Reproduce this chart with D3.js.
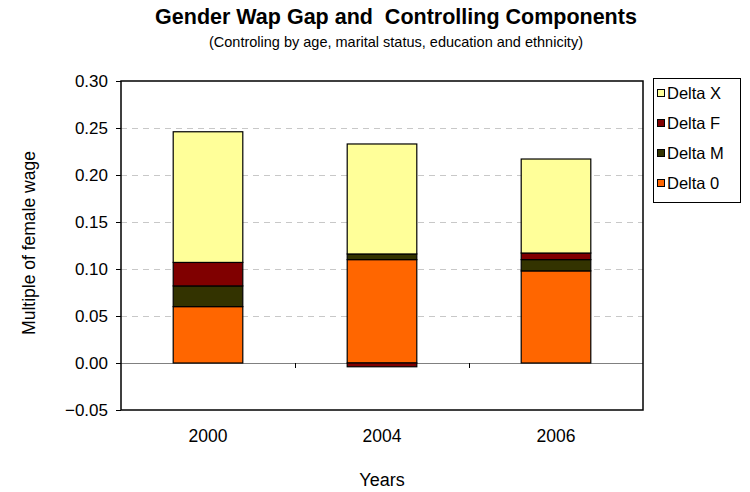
<!DOCTYPE html>
<html>
<head>
<meta charset="utf-8">
<script src="https://cdn.jsdelivr.net/npm/d3@7"></script>
<style>
  body { margin: 0; background: #fff; }
  text { font-family: "Liberation Sans", Arial, sans-serif; }
</style>
</head>
<body>
<div id="chart"></div>
<script>
'use strict'

const years = ['2000', '2004', '2006']
const delta0 = [0.060, 0.110, 0.098]
const deltaM = [0.022, 0.006, 0.012]
const deltaF = [0.025, -0.004, 0.007]
const deltaX = [0.139, 0.117, 0.100]
const yTicks = [-0.05, 0, 0.05, 0.10, 0.15, 0.20, 0.25, 0.30]

const series = [
  { key: 'Delta 0', values: delta0, color: '#ff6600' },
  { key: 'Delta M', values: deltaM, color: '#333300' },
  { key: 'Delta F', values: deltaF, color: '#800000' },
  { key: 'Delta X', values: deltaX, color: '#ffff99' }
]

const rows = years.map((y, i) => {
  const r = { year: y }
  series.forEach(s => { r[s.key] = s.values[i] })
  return r
})

const width = 750
const height = 492
const plot = { left: 121, right: 643, top: 81, bottom: 410 }

const svg = d3.select('#chart')
  .append('svg')
  .attr('width', width)
  .attr('height', height)

const xScale = d3.scaleBand()
  .domain(years)
  .range([plot.left, plot.right])
  .padding(0)

const yScale = d3.scaleLinear()
  .domain([-0.05, 0.30])
  .range([plot.bottom, plot.top])

// grid lines
svg.selectAll('.grid')
  .data(yTicks.filter(t => t > 0 && t < 0.30))
  .enter()
  .append('line')
  .attr('x1', plot.left)
  .attr('x2', plot.right)
  .attr('y1', d => Math.round(yScale(d)) + 0.5)
  .attr('y2', d => Math.round(yScale(d)) + 0.5)
  .attr('stroke', '#c8c8c8')
  .attr('stroke-dasharray', '6,5')

// zero line
svg.append('line')
  .attr('x1', plot.left)
  .attr('x2', plot.right)
  .attr('y1', Math.round(yScale(0)) + 0.5)
  .attr('y2', Math.round(yScale(0)) + 0.5)
  .attr('stroke', '#808080')

// category ticks on zero line
svg.selectAll('.cat-tick')
  .data(years.slice(1))
  .enter()
  .append('line')
  .attr('x1', d => Math.round(xScale(d)) + 0.5)
  .attr('x2', d => Math.round(xScale(d)) + 0.5)
  .attr('y1', Math.round(yScale(0)))
  .attr('y2', Math.round(yScale(0)) + 5)
  .attr('stroke', '#000')

const stack = d3.stack()
  .keys(series.map(s => s.key))
  .offset(d3.stackOffsetDiverging)
const stacked = stack(rows)

const barW = xScale.bandwidth() * 0.4
const colorOf = Object.fromEntries(series.map(s => [s.key, s.color]))

svg.selectAll('.layer')
  .data(stacked)
  .enter()
  .append('g')
  .attr('fill', d => colorOf[d.key])
  .selectAll('rect')
  .data(d => d)
  .enter()
  .append('rect')
  .attr('x', d => xScale(d.data.year) + (xScale.bandwidth() - barW) / 2)
  .attr('width', barW)
  .attr('y', d => yScale(Math.max(d[0], d[1])))
  .attr('height', d => Math.abs(yScale(d[0]) - yScale(d[1])))
  .attr('stroke', '#000')
  .attr('stroke-width', 1.2)

// plot border
svg.append('rect')
  .attr('x', plot.left)
  .attr('y', plot.top)
  .attr('width', plot.right - plot.left)
  .attr('height', plot.bottom - plot.top)
  .attr('fill', 'none')
  .attr('stroke', '#000')
  .attr('stroke-width', 1.5)

// y axis
svg.append('g')
  .attr('transform', `translate(${plot.left}, 0)`)
  .call(d3.axisLeft(yScale).tickValues(yTicks).tickFormat(d3.format('.2f')).tickSize(5))
  .call(g => g.select('.domain').remove())
  .call(g => g.selectAll('line').attr('stroke', '#000'))
  .call(g => g.selectAll('text')
    .attr('font-size', 17)
    .attr('fill', '#000')
    .attr('x', -13)
    .style('font-family', '"Liberation Sans", Arial, sans-serif'))

// x labels
svg.selectAll('.xlab')
  .data(years)
  .enter()
  .append('text')
  .attr('x', d => xScale(d) + xScale.bandwidth() / 2)
  .attr('y', 442)
  .attr('text-anchor', 'middle')
  .attr('font-size', 17.5)
  .text(d => d)

// axis titles
svg.append('text')
  .attr('x', 382)
  .attr('y', 486)
  .attr('text-anchor', 'middle')
  .attr('font-size', 18)
  .text('Years')

svg.append('text')
  .attr('transform', 'translate(35, 243) rotate(-90)')
  .attr('text-anchor', 'middle')
  .attr('font-size', 17.5)
  .text('Multiple of female wage')

// titles
svg.append('text')
  .attr('x', 396)
  .attr('y', 24)
  .attr('text-anchor', 'middle')
  .attr('font-size', 21.5)
  .attr('font-weight', 'bold')
  .style('white-space', 'pre')
  .text('Gender Wap Gap and  Controlling Components')

svg.append('text')
  .attr('x', 396)
  .attr('y', 47)
  .attr('text-anchor', 'middle')
  .attr('font-size', 14.5)
  .text('(Controling by age, marital status, education and ethnicity)')

// legend
svg.append('rect')
  .attr('x', 653.5)
  .attr('y', 78.5)
  .attr('width', 87)
  .attr('height', 124)
  .attr('fill', '#fff')
  .attr('stroke', '#000')

const legend = svg.append('g')
const legendItems = series.slice().reverse()
const legendY = d3.scalePoint()
  .domain(legendItems.map(s => s.key))
  .range([93, 183])

legend.selectAll('rect')
  .data(legendItems)
  .enter()
  .append('rect')
  .attr('x', 657.5)
  .attr('y', d => legendY(d.key) - 3.5)
  .attr('width', 7)
  .attr('height', 7)
  .attr('fill', d => d.color)
  .attr('stroke', '#000')

legend.selectAll('text')
  .data(legendItems)
  .enter()
  .append('text')
  .attr('x', 667)
  .attr('y', d => legendY(d.key) + 6)
  .attr('font-size', 16.5)
  .text(d => d.key)
</script>
</body>
</html>
